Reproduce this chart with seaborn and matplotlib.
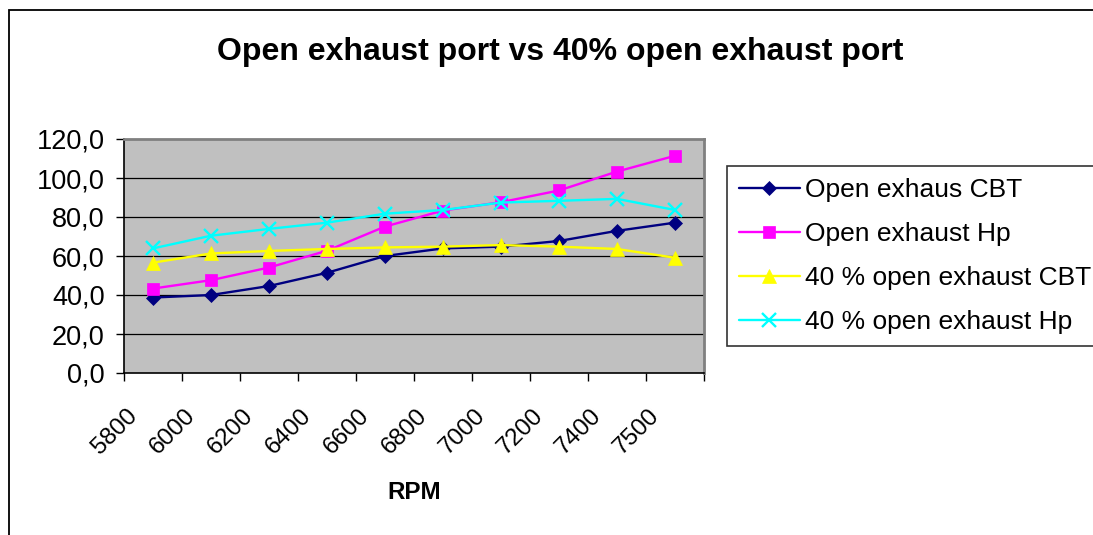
import matplotlib
matplotlib.use("Agg")
import matplotlib.pyplot as plt
import matplotlib.patches as mpatches
import matplotlib.transforms as mtransforms
import pandas as pd
import seaborn as sns

# data
rpm = ["5800", "6000", "6200", "6400", "6600", "6800", "7000", "7200", "7400", "7500"]
open_cbt = [38.7, 40.0, 44.6, 51.4, 60.0, 63.9, 64.8, 67.7, 72.9, 77.1]
open_hp = [43.3, 47.6, 54.1, 62.7, 75.1, 83.3, 87.6, 93.6, 103.3, 111.4]
p40_cbt = [56.6, 61.3, 62.6, 63.6, 64.4, 64.8, 65.6, 64.8, 63.6, 59.1]
p40_hp = [63.9, 70.4, 73.9, 77.1, 81.7, 83.6, 87.4, 88.3, 89.3, 83.6]

series_names = ["Open exhaus CBT", "Open exhaust Hp",
                "40 % open exhaust CBT", "40 % open exhaust Hp"]
series_vals = [open_cbt, open_hp, p40_cbt, p40_hp]
colors = ["#000080", "#FF00FF", "#FFFF00", "#00FFFF"]
markers = ["D", "s", "^", "x"]
msizes = [7, 8.5, 9.5, 9.5]

sns.set_theme(style="white")
plt.rcParams["font.family"] = ["Liberation Sans", "DejaVu Sans"]
plt.rcParams.update({"text.color": "black", "axes.labelcolor": "black",
                     "xtick.color": "black", "ytick.color": "black"})

fig = plt.figure(figsize=(10.93, 5.35), dpi=100)
ax = fig.add_axes([124 / 1093, 1 - 373 / 535, 580 / 1093, 234 / 535])
ax.set_facecolor("#C0C0C0")

for i, (name, vals) in enumerate(zip(series_names, series_vals)):
    df = pd.DataFrame({"RPM": rpm, "value": vals})
    sns.lineplot(
        data=df, x="RPM", y="value", ax=ax, color=colors[i], marker=markers[i],
        markersize=msizes[i], markeredgecolor=colors[i], markerfacecolor=colors[i],
        markeredgewidth=1.7 if markers[i] == "x" else 0.5,
        linewidth=1.7, label=name, zorder=3 + i,
    )

ax.set_xlim(-0.5, len(rpm) - 0.5)
ax.set_ylim(0, 120)
ax.set_yticks(range(0, 121, 20))
ax.set_yticklabels([f"{v},0" for v in range(0, 121, 20)], fontsize=19.5)
for y in range(20, 120, 20):
    ax.axhline(y, color="black", linewidth=0.9, zorder=1)

# Excel-style category axis: marks between categories, labels at centres
ax.set_xticks([k - 0.5 for k in range(len(rpm) + 1)])
ax.set_xticklabels([])
ax.set_xticks(range(len(rpm)), minor=True)
ax.set_xticklabels(rpm, minor=True, rotation=45, ha="right", va="top",
                   rotation_mode="anchor", fontsize=17.5)
ax.tick_params(axis="x", which="minor", length=0, pad=23)
ax.tick_params(axis="x", which="major", length=6, width=1, color="black",
               direction="out", bottom=True)
ax.tick_params(axis="y", length=6, width=1, color="black", direction="out",
               left=True, pad=8)
offset = mtransforms.ScaledTranslation(-27 / 100, 0, fig.dpi_scale_trans)
for lab in ax.get_xticklabels(minor=True):
    lab.set_transform(lab.get_transform() + offset)

for side in ["left", "bottom"]:
    ax.spines[side].set_color("black")
    ax.spines[side].set_linewidth(1.2)
for side in ["top", "right"]:
    ax.spines[side].set_color("#808080")
    ax.spines[side].set_linewidth(2)

ax.set_ylabel("")
ax.set_xlabel("RPM", fontsize=17.5, fontweight="bold", labelpad=16)

fig.text(560 / 1093, 1 - 52 / 535, "Open exhaust port vs 40% open exhaust port",
         ha="center", va="center", fontsize=23, fontweight="bold")

handles, labels = ax.get_legend_handles_labels()
if ax.legend_:
    ax.legend_.remove()
leg = fig.legend(handles, labels, loc="upper left",
                 bbox_to_anchor=(727 / 1093, 1 - 166 / 535),
                 fontsize=19, frameon=True, fancybox=False, edgecolor="black",
                 handlelength=2.3, handletextpad=0.2, labelspacing=0.76,
                 borderpad=0.45, borderaxespad=0)
leg.get_frame().set_linewidth(1.2)

# outer chart border
fig.patches.append(mpatches.Rectangle((8.5 / 1093, -0.05), 1.2, 1 - 9.5 / 535 + 0.05,
                                      transform=fig.transFigure, fill=False,
                                      edgecolor="black", linewidth=1.3))

fig.savefig("out.png", dpi=100)
